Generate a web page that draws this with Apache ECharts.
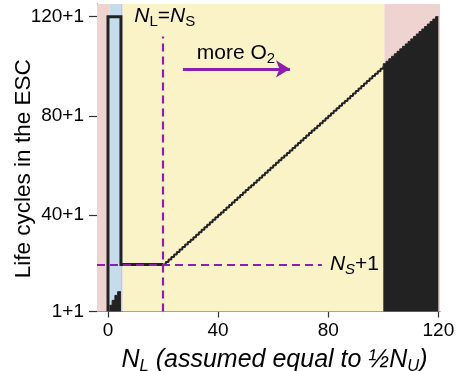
<!DOCTYPE html>
<html><head><meta charset="utf-8">
<script src="https://cdn.jsdelivr.net/npm/echarts@6/dist/echarts.min.js"></script>
<style>html,body{margin:0;padding:0;background:#fff}#c{width:470px;height:371px}</style>
</head><body><div id="c"></div>
<script>
// ---- data ----
const xTicks = [0, 40, 80, 120];
const yTicks = [1, 40, 80, 120];
const nS = 20;                       // N_L = N_S, also the N_S+1 level
const outlineX = [0, 0, 4.7, 4.7, 20];
const outlineY = [1, 120, 120, 20, 20];
const leftStairX = [0.5, 1.5, 2.5, 3.5, 4.7];
const leftStairY = [3.5, 5.5, 7.5, 9, 9];
const diagX = [20,21,22,23,24,25,26,27,28,29,30,31,32,33,34,35,36,37,38,39,40,41,42,43,44,45,46,47,48,49,50,51,52,53,54,55,56,57,58,59,60,61,62,63,64,65,66,67,68,69,70,71,72,73,74,75,76,77,78,79,80,81,82,83,84,85,86,87,88,89,90,91,92,93,94,95,96,97,98,99,100];
const diagY = [20,21,22,23,24,25,26,27,28,29,30,31,32,33,34,35,36,37,38,39,40,41,42,43,44,45,46,47,48,49,50,51,52,53,54,55,56,57,58,59,60,61,62,63,64,65,66,67,68,69,70,71,72,73,74,75,76,77,78,79,80,81,82,83,84,85,86,87,88,89,90,91,92,93,94,95,96,97,98,99,100];
const fillX = [100,101,102,103,104,105,106,107,108,109,110,111,112,113,114,115,116,117,118,119,120];
const fillY = [100,101,102,103,104,105,106,107,108,109,110,111,112,113,114,115,116,117,118,119,120];
// background bands [from, to]
const bandPinkL = [-4, 0.5];
const bandBlue = [0.5, 4.7];
const bandLav = [4.7, 5.3];
const bandYellow = [5.3, 100.4];
const bandPinkR = [100.4, 121];

const X_MIN = -4, X_MAX = 120.6, Y_MIN = 1, Y_MAX = 125.1;
const PURPLE = '#8c1fac', BLACK = '#222';
const FONT = 'Liberation Sans';

const pairs = (xs, ys) => xs.map((x, i) => [x, ys[i]]);
const chart = echarts.init(document.getElementById('c'), null, {renderer: 'canvas'});

const option = {
  animation: false,
  backgroundColor: '#fff',
  grid: {left: 97, right: 30, top: 4, bottom: 59.5, outerBoundsMode: 'none', containLabel: false},
  xAxis: {
    type: 'value', min: X_MIN, max: X_MAX,
    splitLine: {show: false},
    axisLine: {show: true, onZero: false, lineStyle: {color: '#555', width: 1}},
    axisTick: {show: true, customValues: xTicks, length: 6, lineStyle: {color: '#333', width: 1.2}},
    axisLabel: {customValues: xTicks, color: '#000', fontSize: 19, fontFamily: FONT, margin: 10},
    name: '{i|N}{s|L}{i| (assumed equal to ½}{i|N}{s|U}{i|)}',
    nameLocation: 'middle', nameGap: 34,
    nameTextStyle: {
      padding: [0, 0, 0, 12],
      rich: {
        i: {fontSize: 25, fontStyle: 'italic', fontFamily: FONT, color: '#000'},
        s: {fontSize: 16.5, fontStyle: 'italic', fontFamily: FONT, color: '#000', padding: [12, 0, 0, 0]}
      }
    }
  },
  yAxis: {
    type: 'value', min: Y_MIN, max: Y_MAX,
    splitLine: {show: false},
    axisLine: {show: true, onZero: false, lineStyle: {color: '#555', width: 1}},
    axisTick: {show: true, customValues: yTicks, length: 8, lineStyle: {color: '#333', width: 1.2}},
    axisLabel: {customValues: yTicks, color: '#000', fontSize: 19, fontFamily: FONT, margin: 13,
      formatter: v => v + '+1'},
    name: 'Life cycles in the ESC',
    nameLocation: 'middle', nameGap: 62, nameMoveOverlap: false,
    nameTextStyle: {fontSize: 22.5, fontFamily: FONT, color: '#000', padding: [0, 22, 0, 0]}
  },
  series: [
    {
      type: 'line', data: [], z: 0, silent: true,
      markArea: {
        silent: true,
        data: [
          [{xAxis: bandPinkL[0], itemStyle: {color: '#efd3d0'}}, {xAxis: bandPinkL[1]}],
          [{xAxis: bandBlue[0], itemStyle: {color: '#c6dcec'}}, {xAxis: bandBlue[1]}],
          [{xAxis: bandLav[0], itemStyle: {color: '#d2bde4'}}, {xAxis: bandLav[1]}],
          [{xAxis: bandYellow[0], itemStyle: {color: '#fbf3c8'}}, {xAxis: bandYellow[1]}],
          [{xAxis: bandPinkR[0], itemStyle: {color: '#efd3d0'}}, {xAxis: bandPinkR[1]}]
        ]
      }
    },
    {
      name: 'fill', type: 'line', z: 3, step: 'start', showSymbol: false,
      data: pairs(fillX, fillY),
      lineStyle: {color: BLACK, width: 1}, areaStyle: {color: BLACK, opacity: 1, origin: 'start'}
    },
    {
      name: 'leftStair', type: 'line', z: 3, step: 'end', showSymbol: false,
      data: pairs(leftStairX, leftStairY),
      lineStyle: {color: BLACK, width: 1}, areaStyle: {color: BLACK, opacity: 1, origin: 'start'}
    },
    {
      name: 'diag', type: 'line', z: 4, step: 'end', showSymbol: false,
      data: pairs(diagX, diagY),
      lineStyle: {color: BLACK, width: 2}
    },
    {
      name: 'outline', type: 'line', z: 4, showSymbol: false,
      data: pairs(outlineX, outlineY),
      lineStyle: {color: BLACK, width: 3, join: 'miter'}
    },
    {
      name: 'guides', type: 'line', data: [], z: 5,
      markLine: {
        silent: true, symbol: ['none', 'none'], label: {show: false},
        lineStyle: {color: PURPLE, width: 2.2, type: [8, 5]},
        data: [
          [{coord: [X_MIN, nS]}, {coord: [77.7, nS]}],
          [{coord: [nS, Y_MIN]}, {coord: [nS, 112]}]
        ]
      }
    },
    {
      name: 'arrow', type: 'line', data: [], z: 5,
      markLine: {
        silent: true, symbol: ['none', 'arrow'], symbolSize: [13, 14], label: {show: false},
        lineStyle: {color: PURPLE, width: 3, type: 'solid'},
        data: [[{coord: [27.2, 98.9]}, {coord: [66.1, 98.9]}]]
      }
    }
  ]
};
chart.setOption(option);

const p1 = chart.convertToPixel({gridIndex: 0}, [20.6, 120.2]);
const p2 = chart.convertToPixel({gridIndex: 0}, [46.5, 105.3]);
const p3 = chart.convertToPixel({gridIndex: 0}, [80.6, nS]);
const richBase = {
  i: {fontSize: 21, fontStyle: 'italic', fontFamily: FONT, color: PURPLE},
  n: {fontSize: 21, fontFamily: FONT, color: PURPLE},
  s: {fontSize: 15, fontFamily: FONT, color: PURPLE, padding: [11, 0, 0, 0]},
  si: {fontSize: 15, fontStyle: 'italic', fontFamily: FONT, color: PURPLE, padding: [11, 0, 0, 0]}
};
chart.setOption({
  graphic: [
    {type: 'text', x: p1[0], y: p1[1], z: 10, style: {text: '{i|N}{s|L}{n|=}{i|N}{s|S}', rich: richBase, align: 'center', verticalAlign: 'middle'}},
    {type: 'text', x: p2[0], y: p2[1], z: 10, style: {text: '{n|more O}{s|2}', rich: richBase, align: 'center', verticalAlign: 'middle'}},
    {type: 'text', x: p3[0], y: p3[1], z: 10, style: {text: '{i|N}{si|S}{n|+1}', rich: richBase, align: 'left', verticalAlign: 'middle'}}
  ]
});
</script></body></html>
